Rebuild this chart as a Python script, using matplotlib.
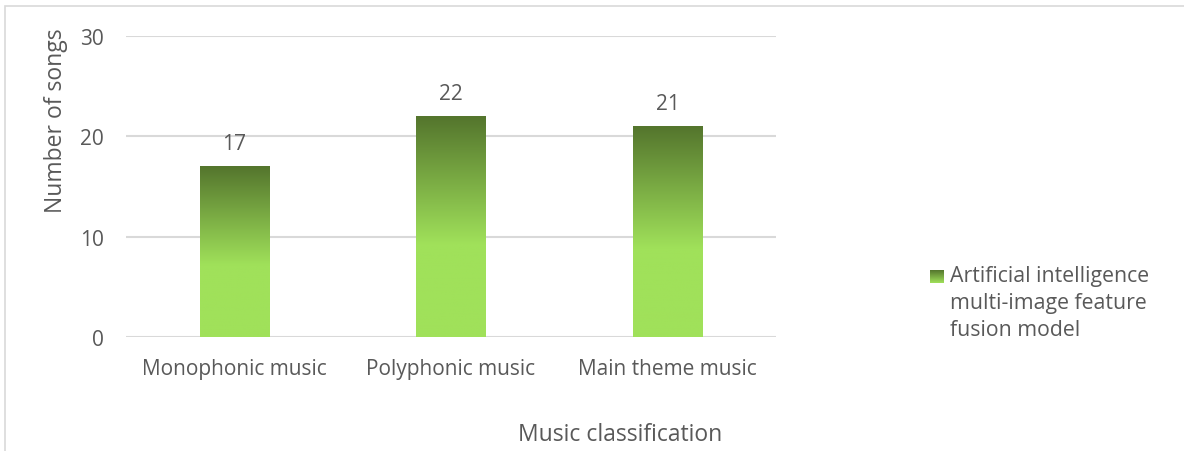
import matplotlib.pyplot as plt
import numpy as np
from matplotlib.colors import LinearSegmentedColormap
from matplotlib.patches import Rectangle

plt.rcParams['font.family'] = ['Open Sans', 'DejaVu Sans']

# Data
categories = ['Monophonic music', 'Polyphonic music', 'Main theme music']
songs = [17, 22, 21]
series_name = 'Artificial intelligence\nmulti-image feature\nfusion model'

txt = '#595959'
grid = '#d9d9d9'
dark = '#54752d'
light = '#a0e15a'

# gradient: dark at top, light from ~58% down to the base
cmap = LinearSegmentedColormap.from_list('bar', [(0, light), (0.42, light), (1, dark)])
grad = np.linspace(0, 1, 256).reshape(-1, 1)

fig = plt.figure(figsize=(11.84, 4.52), dpi=100)
ax = fig.add_axes([0.1064, 0.2522, 0.549, 0.666])

x = np.arange(len(categories))
w = 0.32
bars = ax.bar(x, songs, width=w, color='none', zorder=3)
for b, v in zip(bars, songs):
    x0 = b.get_x()
    ax.imshow(grad, cmap=cmap, origin='lower', aspect='auto',
              extent=[x0, x0 + w, 0, v], zorder=3)
    ax.text(b.get_x() + w / 2, v + 1.25, str(v), ha='center', va='bottom',
            fontsize=15, color=txt)

ax.set_xlim(-0.5, len(categories) - 0.5)
ax.set_ylim(0, 30)
ax.set_yticks([0, 10, 20, 30])
ax.set_xticks(x)
ax.set_xticklabels(categories)
ax.yaxis.grid(True, color=grid, linewidth=1.5, zorder=0)
ax.set_axisbelow(True)
for s in ax.spines.values():
    s.set_visible(False)
ax.tick_params(length=0, labelsize=15, labelcolor=txt)
ax.tick_params(axis='y', pad=16)
ax.tick_params(axis='x', pad=15)

fig.text(0.047, 0.733, 'Number of songs', rotation=90, ha='center', va='center',
         fontsize=16.5, color=txt)
fig.text(0.524, 0.038, 'Music classification', ha='center', va='center',
         fontsize=16.5, color=txt)

# legend marker (small gradient square) and text
lax = fig.add_axes([930 / 1184, 1 - 284 / 452, 14 / 1184, 13 / 452])
lax.imshow(grad, cmap=LinearSegmentedColormap.from_list('key', [light, dark]),
           origin='lower', aspect='auto')
lax.axis('off')
fig.text(950 / 1184, 1 - 266 / 452, series_name, ha='left', va='top',
         fontsize=15.3, color=txt, linespacing=1.38)

# chart border
fig.patches.append(Rectangle((5 / 1184, -0.05), 1.2, 1 - 7 / 452 + 0.05,
                             transform=fig.transFigure, facecolor='none',
                             edgecolor=grid, linewidth=1.2))

plt.savefig('out.png', dpi=100)
